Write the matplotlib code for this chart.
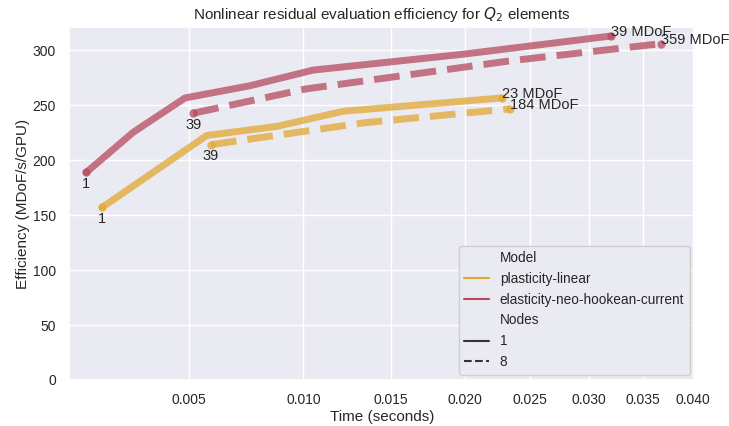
import numpy as np
import matplotlib
matplotlib.use("Agg")
import matplotlib.pyplot as plt
from matplotlib.lines import Line2D
from matplotlib.ticker import FixedLocator, FormatStrFormatter
import seaborn as sns

sns.set_theme(style="darkgrid")
plt.rcParams["font.family"] = ["Liberation Sans", "DejaVu Sans"]

# Time per residual evaluation (s) and efficiency (MDoF/s/GPU)
plastic_1_time = [0.00234, 0.00566, 0.00868, 0.01216, 0.02277]
plastic_1_eff = [157.0, 222.4, 230.6, 244.4, 256.5]
plastic_8_time = [0.00582, 0.01341, 0.02343]
plastic_8_eff = [214.0, 234.0, 246.6]

elastic_1_time = [0.00196, 0.00318, 0.00485, 0.00745, 0.0105, 0.0199, 0.0320]
elastic_1_eff = [188.7, 225.4, 256.5, 267.6, 281.8, 296.3, 312.8]
elastic_8_time = [0.00515, 0.0101, 0.0234, 0.0368]
elastic_8_eff = [242.6, 264.6, 290.2, 305.9]

models = ["plasticity-linear", "elasticity-neo-hookean-current"]
nodes = ["1", "8"]
start_labels = {"1": "1", "8": "39"}
end_labels = {
    ("plasticity-linear", "1"): "23 MDoF",
    ("plasticity-linear", "8"): "184 MDoF",
    ("elasticity-neo-hookean-current", "1"): "39 MDoF",
    ("elasticity-neo-hookean-current", "8"): "359 MDoF",
}
series = {
    ("plasticity-linear", "1"): (plastic_1_time, plastic_1_eff),
    ("plasticity-linear", "8"): (plastic_8_time, plastic_8_eff),
    ("elasticity-neo-hookean-current", "1"): (elastic_1_time, elastic_1_eff),
    ("elasticity-neo-hookean-current", "8"): (elastic_8_time, elastic_8_eff),
}
xticks = [0.005, 0.010, 0.015, 0.020, 0.025, 0.030, 0.035, 0.040]

colors = {"plasticity-linear": "#e3a832", "elasticity-neo-hookean-current": "#b54a5e"}
styles = {"1": "-", "8": "--"}

fig = plt.figure(figsize=(7.29, 4.26), dpi=100)
ax = fig.add_axes([0.0947, 0.108, 0.8587, 0.8286])
ax.set_xscale("function", functions=(lambda x: np.sqrt(np.clip(x, 0, None)), np.square))

for (model, node), (t, e) in series.items():
    c = colors[model]
    ax.plot(t, e, ls=styles[node], color=c, lw=5, alpha=0.75,
            solid_capstyle="round", dash_capstyle="butt")
    ax.plot([t[0], t[-1]], [e[0], e[-1]], "o", color=c, ms=6, alpha=0.75, mew=0)
    ax.text(t[0], e[0] - 4, start_labels[node], ha="center", va="top",
            fontsize=10.5, color="#262626")
    ax.text(t[-1], e[-1], end_labels[(model, node)], ha="left", va="baseline",
            fontsize=10.5, color="#262626")

ax.set_xlim(0.00159, 0.0402)
ax.set_ylim(0, 321)
ax.xaxis.set_major_locator(FixedLocator(xticks))
ax.xaxis.set_major_formatter(FormatStrFormatter("%.3f"))
ax.xaxis.set_minor_locator(FixedLocator([]))
ax.set_yticks([0, 50, 100, 150, 200, 250, 300])
ax.tick_params(labelsize=10)
ax.set_xlabel("Time (seconds)", fontsize=11, labelpad=2)
ax.set_ylabel("Efficiency (MDoF/s/GPU)", fontsize=11, labelpad=1.5)
ax.set_title("Nonlinear residual evaluation efficiency for $Q_2$ elements", fontsize=11)

handles = [Line2D([], [], lw=0, color="none")]
labels = ["Model"]
for m in models:
    handles.append(Line2D([], [], color=colors[m], lw=1.5))
    labels.append(m)
handles.append(Line2D([], [], lw=0, color="none"))
labels.append("Nodes")
for n in nodes:
    handles.append(Line2D([], [], color="#333333", lw=1.5, ls=styles[n]))
    labels.append(n)
ax.legend(handles, labels, loc="lower right", fontsize=9.8, framealpha=0.9,
          borderaxespad=0.4, handlelength=1.8)

fig.savefig("out.png", dpi=100)
